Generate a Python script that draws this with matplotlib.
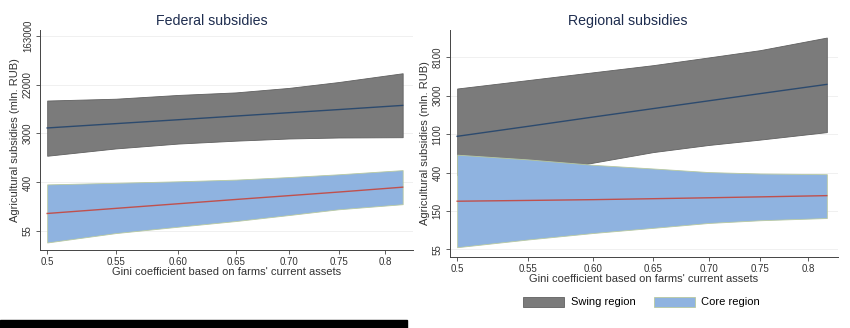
import numpy as np
import matplotlib.pyplot as plt
from matplotlib.patches import Rectangle, Patch

plt.rcParams['font.family'] = ['Liberation Sans', 'DejaVu Sans']

# Gini coefficient grid
gini = [0.5, 0.55, 0.6, 0.65, 0.7, 0.75, 0.82]

# Federal subsidies (mln. RUB)
fed_swing_mid = [3760, 4490, 5270, 6130, 7040, 8000, 9500]
fed_swing_hi = [11600, 12500, 14600, 16200, 19500, 24800, 35600]
fed_swing_lo = [1200, 1620, 1980, 2230, 2440, 2540, 2570]
fed_core_mid = [112, 138, 167, 199, 233, 270, 330]
fed_core_hi = [370, 395, 420, 450, 500, 560, 665]
fed_core_lo = [34, 50, 65, 82, 105, 133, 164]

# Regional subsidies (mln. RUB)
reg_gini_lo = [0.5, 0.55, 0.59, 0.65, 0.7, 0.75, 0.82]
reg_swing_mid = [1040, 1350, 1720, 2140, 2620, 3160, 4020]
reg_swing_hi = [3610, 4500, 5300, 6630, 8100, 9800, 13600]
reg_swing_lo = [380, 425, 495, 690, 830, 955, 1160]
reg_core_mid = [192, 196, 200, 205, 210, 215, 222]
reg_core_hi = [645, 570, 495, 450, 410, 395, 388]
reg_core_lo = [58, 71, 84, 96, 109, 117, 124]

fed_yticks = [55, 400, 3000, 22000, 163000]
reg_yticks = [55, 150, 400, 1100, 3000, 8100]
xticks = [0.5, 0.55, 0.6, 0.65, 0.7, 0.75, 0.8]
xlabels = ['0.5', '0.55', '0.60', '0.65', '0.70', '0.75', '0.8']

GREY = '#7b7b7b'
BLUE = '#8fb3e0'
NAVY = '#2c4a6e'
RED = '#c0504d'
TITLE = '#1e2d4f'

fig = plt.figure(figsize=(8.5, 3.28), dpi=100)
ax1 = fig.add_axes([0.047, 0.238, 0.439, 0.67])
ax2 = fig.add_axes([0.529, 0.217, 0.4565, 0.691])


def draw(ax, xs_lo, sw_mid, sw_hi, sw_lo, co_mid, co_hi, co_lo, yticks, ylim, title):
    ax.set_xscale('log')
    ax.set_yscale('log')
    for t in yticks:
        ax.axhline(t, color='#eeeeee', lw=0.6, zorder=0)
    ax.fill_between(xs_lo, sw_lo, sw_hi, color=GREY, lw=0.6, ec='#606060', zorder=1)
    ax.plot(gini, sw_mid, color=NAVY, lw=1.0, zorder=3)
    ax.fill_between(gini, co_lo, co_hi, color=BLUE, lw=0.6, ec='#b8c9a0', zorder=2)
    ax.plot(gini, co_mid, color=RED, lw=1.0, zorder=3)
    ax.set_ylim(*ylim)
    ax.set_xlim(0.495, 0.832)
    ax.set_yticks(yticks)
    ax.set_yticklabels([str(t) for t in yticks], rotation=90, va='center', fontsize=7, color='#333333')
    ax.yaxis.set_minor_locator(plt.NullLocator())
    ax.xaxis.set_minor_locator(plt.NullLocator())
    ax.set_xticks(xticks)
    ax.set_xticklabels(xlabels, fontsize=7, color='#333333')
    ax.tick_params(length=3, width=0.6, color='#444444', pad=2)
    for s in ['top', 'right']:
        ax.spines[s].set_visible(False)
    for s in ['left', 'bottom']:
        ax.spines[s].set_color('#444444')
        ax.spines[s].set_linewidth(0.7)
    ax.set_xlabel("Gini coefficient based on farms' current assets", fontsize=8, color='#333333', labelpad=0)
    ax.set_ylabel('Agricultural subsidies (mln. RUB)', fontsize=8, color='#333333', labelpad=2)
    ax.set_title(title, fontsize=10.2, color=TITLE, pad=4, x=0.46)


draw(ax1, gini, fed_swing_mid, fed_swing_hi, fed_swing_lo,
     fed_core_mid, fed_core_hi, fed_core_lo, fed_yticks, (np.exp(3.22), np.exp(12.25)), 'Federal subsidies')
draw(ax2, reg_gini_lo, reg_swing_mid, reg_swing_hi, reg_swing_lo,
     reg_core_mid, reg_core_hi, reg_core_lo, reg_yticks, (np.exp(3.81), np.exp(9.71)), 'Regional subsidies')

handles = [Patch(fc=GREY, ec='#606060', lw=0.6, label='Swing region'),
           Patch(fc=BLUE, ec='#b8c9a0', lw=0.6, label='Core region')]
fig.legend(handles=handles, loc='center', bbox_to_anchor=(0.755, 0.079), ncol=2, frameon=False,
           fontsize=8, handlelength=3.7, handleheight=1.0, columnspacing=1.6, handletextpad=0.6)

fig.patches.append(Rectangle((0, 0), 407 / 850, 8 / 328, transform=fig.transFigure,
                             color='black', zorder=5))

fig.savefig('out.png', dpi=100)
